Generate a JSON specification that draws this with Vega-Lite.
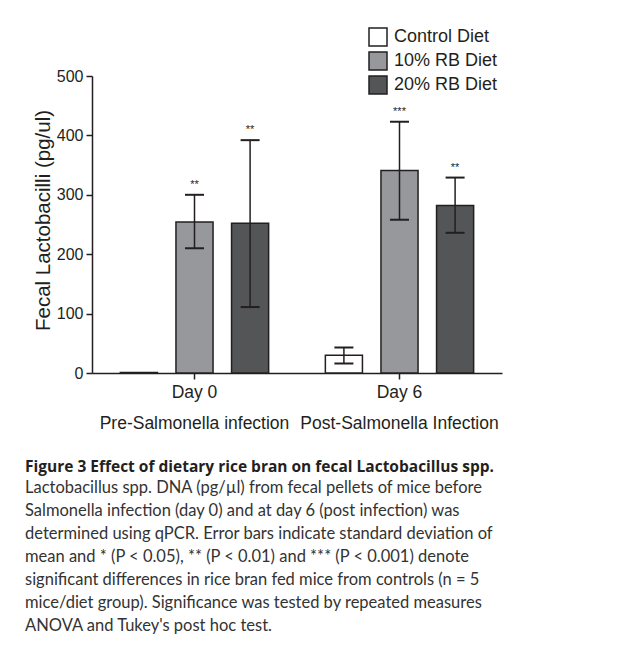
{
  "$schema": "https://vega.github.io/schema/vega-lite/v6.json",
  "width": 410,
  "height": 297,
  "autosize": "none",
  "padding": {"left": 92, "top": 76, "right": 133, "bottom": 291},
  "background": "white",
  "config": {
    "view": {"stroke": null},
    "font": "Liberation Sans",
    "axis": {"labelFont": "Liberation Sans", "titleFont": "Liberation Sans"},
    "legend": {"labelFont": "Liberation Sans"},
    "text": {"font": "Liberation Sans"}
  },
  "title": {
    "text": "Figure 3 Effect of dietary rice bran on fecal Lactobacillus spp.",
    "subtitle": [
      "Lactobacillus spp. DNA (pg/µl) from fecal pellets of mice before",
      "Salmonella infection (day 0) and at day 6 (post infection) was",
      "determined using qPCR. Error bars indicate standard deviation of",
      "mean and * (P < 0.05), ** (P < 0.01) and *** (P < 0.001) denote",
      "significant differences in rice bran fed mice from controls (n = 5",
      "mice/diet group). Significance was tested by repeated measures",
      "ANOVA and Tukey's post hoc test."
    ],
    "orient": "bottom",
    "anchor": "start",
    "frame": "group",
    "dx": -67,
    "offset": 28,
    "font": "Open Sans",
    "fontSize": 15.5,
    "fontWeight": "bold",
    "color": "#231f20",
    "subtitleFont": "Lato",
    "subtitleFontSize": 16.5,
    "subtitleColor": "#333333",
    "subtitleLineHeight": 23,
    "subtitlePadding": 5
  },
  "data": {
    "values": [
      {"day": "Day 0", "diet": "Control Diet", "mean": 1, "lo": null, "hi": null, "sig": ""},
      {"day": "Day 0", "diet": "10% RB Diet", "mean": 254, "lo": 210, "hi": 300, "sig": "**"},
      {"day": "Day 0", "diet": "20% RB Diet", "mean": 252, "lo": 111, "hi": 392, "sig": "**"},
      {"day": "Day 6", "diet": "Control Diet", "mean": 30, "lo": 16, "hi": 43, "sig": ""},
      {"day": "Day 6", "diet": "10% RB Diet", "mean": 341, "lo": 258, "hi": 423, "sig": "***"},
      {"day": "Day 6", "diet": "20% RB Diet", "mean": 282, "lo": 236, "hi": 329, "sig": "**"}
    ]
  },
  "encoding": {
    "x": {
      "field": "day",
      "type": "nominal",
      "sort": ["Day 0", "Day 6"],
      "scale": {"paddingInner": 0, "paddingOuter": 0},
      "axis": {
        "title": null,
        "labelAngle": 0,
        "labelExpr": "datum.value == 'Day 0' ? ['Day 0', 'Pre-Salmonella infection'] : ['Day 6', 'Post-Salmonella Infection']",
        "labelFontSize": 17.5,
        "labelLimit": 0,
        "labelColor": "#231f20",
        "labelLineHeight": 31,
        "labelPadding": 4,
        "tickSize": 6,
        "tickWidth": 1.5,
        "tickColor": "#231f20",
        "domainColor": "#231f20",
        "domainWidth": 1.5
      }
    },
    "xOffset": {
      "field": "diet",
      "type": "nominal",
      "sort": ["Control Diet", "10% RB Diet", "20% RB Diet"],
      "scale": {"paddingInner": 0.333, "paddingOuter": 0.51}
    }
  },
  "layer": [
    {
      "mark": {"type": "bar", "stroke": "#231f20", "strokeWidth": 1.5},
      "encoding": {
        "y": {
          "field": "mean",
          "type": "quantitative",
          "scale": {"domain": [0, 500], "nice": false},
          "axis": {
            "title": "Fecal Lactobacilli  (pg/ul)",
            "titleFontSize": 20.5,
            "titleFontWeight": "normal",
            "titleColor": "#231f20",
            "titleX": -49,
            "titleY": 144,
            "titleAlign": "center",
            "titleBaseline": "middle",
            "values": [0, 100, 200, 300, 400, 500],
            "grid": false,
            "labelFontSize": 16,
            "labelColor": "#231f20",
            "labelPadding": 3,
            "tickSize": 6,
            "tickWidth": 1.5,
            "tickColor": "#231f20",
            "domainColor": "#231f20",
            "domainWidth": 1.5
          }
        },
        "fill": {
          "field": "diet",
          "type": "nominal",
          "scale": {
            "domain": ["Control Diet", "10% RB Diet", "20% RB Diet"],
            "range": ["#ffffff", "#97989c", "#545557"]
          },
          "legend": {
            "title": null,
            "orient": "none",
            "legendX": 276,
            "legendY": -49,
            "symbolType": "square",
            "symbolSize": 324,
            "symbolStrokeColor": "#231f20",
            "symbolStrokeWidth": 1.5,
            "labelFontSize": 18,
            "labelColor": "#231f20",
            "labelLimit": 0,
            "rowPadding": 0,
            "labelOffset": 6
          }
        }
      }
    },
    {
      "transform": [{"filter": "datum.hi != null"}],
      "mark": {"type": "rule", "strokeWidth": 1.5, "color": "#231f20"},
      "encoding": {
        "y": {"field": "lo", "type": "quantitative"},
        "y2": {"field": "hi"}
      }
    },
    {
      "transform": [{"filter": "datum.hi != null"}],
      "mark": {"type": "tick", "size": 19, "thickness": 2, "color": "#231f20", "opacity": 1},
      "encoding": {"y": {"field": "hi", "type": "quantitative"}}
    },
    {
      "transform": [{"filter": "datum.hi != null"}],
      "mark": {"type": "tick", "size": 19, "thickness": 2, "color": "#231f20", "opacity": 1},
      "encoding": {"y": {"field": "lo", "type": "quantitative"}}
    },
    {
      "transform": [{"filter": "datum.hi != null"}],
      "mark": {"type": "text", "dy": -10, "fontSize": 11, "color": "#231f20"},
      "encoding": {
        "y": {"field": "hi", "type": "quantitative"},
        "text": {"field": "sig"}
      }
    }
  ]
}
